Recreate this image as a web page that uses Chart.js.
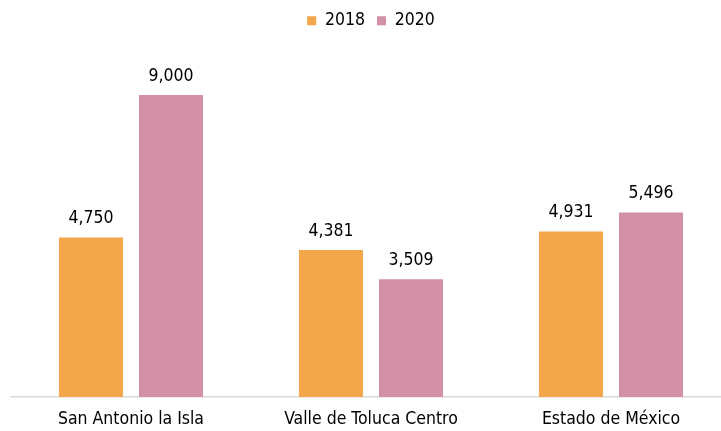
<!DOCTYPE html>
<html>
<head>
<meta charset="utf-8">
<script src="https://cdn.jsdelivr.net/npm/chart.js@4/dist/chart.umd.min.js"></script>
<style>
  html, body { margin: 0; padding: 0; background: #fff; overflow: hidden; }
  #wrap { width: 742px; height: 431px; }
</style>
</head>
<body>
<div id="wrap"><canvas id="barChart"></canvas></div>
<script>
var categorias = ['San Antonio la Isla', 'Valle de Toluca Centro', 'Estado de México'];
var valores2018 = [4750, 4381, 4931];
var valores2020 = [9000, 3509, 5496];

var fuente = "'Liberation Sans Narrow', 'Arial Narrow', 'DejaVu Sans Condensed', sans-serif";

// etiquetas con el valor encima de cada barra
const etiquetasValor = {
    id: 'etiquetasValor',
    afterDatasetsDraw(chart) {
        const ctx = chart.ctx;
        ctx.save();
        ctx.font = '17.5px ' + fuente;
        ctx.fillStyle = '#000';
        ctx.textAlign = 'center';
        ctx.textBaseline = 'bottom';
        chart.data.datasets.forEach((ds, i) => {
            chart.getDatasetMeta(i).data.forEach((bar, j) => {
                ctx.fillText(ds.data[j].toLocaleString('en-US'), bar.x, bar.y - 10);
            });
        });
        ctx.restore();
    }
};

const barras = document.getElementById('barChart');

let barChart = new Chart(barras, {
    type: 'bar',
    data: {
        labels: categorias,
        datasets: [
            {
                label: '2018',
                backgroundColor: '#F4A64A',
                data: valores2018,
            },
            {
                label: '2020',
                backgroundColor: '#D291A6',
                data: valores2020,
            }
        ]
    },
    options: {
        responsive: true,
        maintainAspectRatio: false,
        animation: false,
        layout: { padding: { left: 11, right: 11, top: 0, bottom: 0 } },
        datasets: {
            bar: { categoryPercentage: 0.667, barPercentage: 0.8 }
        },
        plugins: {
            tooltip: { enabled: false },
            legend: {
                position: 'top',
                labels: {
                    boxWidth: 9,
                    boxHeight: 9,
                    padding: 12,
                    color: '#000',
                    font: { family: fuente, size: 17.5 }
                }
            }
        },
        scales: {
            x: {
                grid: { display: false, drawTicks: false },
                border: { color: '#D9D9D9', width: 1.5 },
                ticks: { color: '#000', padding: 12, font: { family: fuente, size: 17.5 } },
                afterFit(scale) { scale.height = 34; }
            },
            y: {
                display: false,
                min: 0,
                max: 10650
            }
        }
    },
    plugins: [etiquetasValor]
});
</script>
</body>
</html>
